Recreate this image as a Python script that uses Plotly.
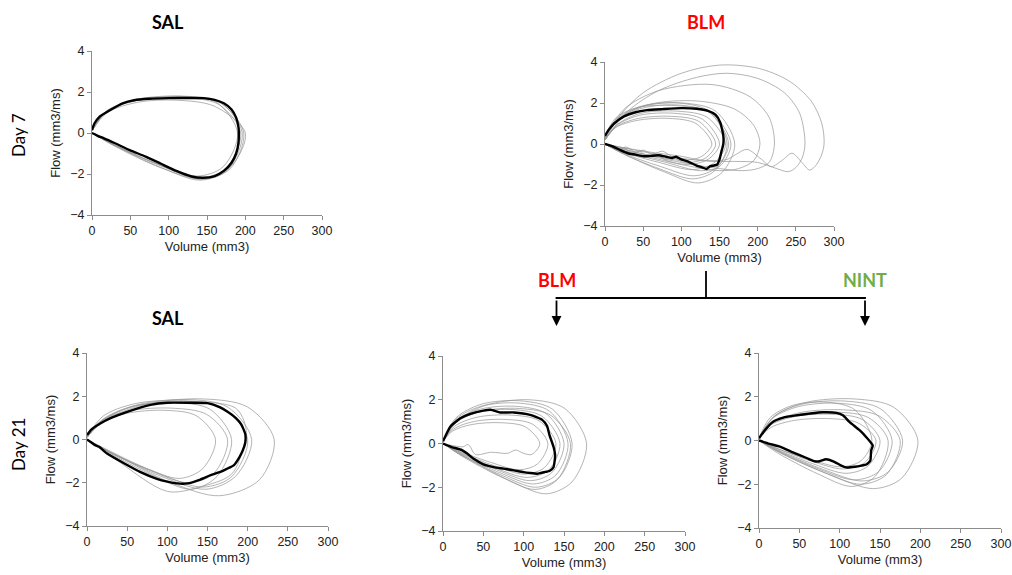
import plotly.graph_objects as go

# ---------------- data (volume mm3, flow mm3/ms) ----------------
x_ticks = [0, 50, 100, 150, 200, 250, 300]
y_ticks = [-4, -2, 0, 2, 4]

# Day 7 SAL
sal7_mean_vol = [0, 3, 10, 25, 40, 55, 75, 100, 125, 145, 160, 172, 182, 188, 191, 191.5,
                 191, 188, 182, 172, 160, 145, 130, 110, 90, 70, 50, 30, 15, 8, 3, 0]
sal7_mean_flow = [0.15, 0.45, 0.8, 1.15, 1.45, 1.6, 1.67, 1.7, 1.71, 1.7, 1.62, 1.45, 1.15, 0.75, 0.3, 0,
                  -0.5, -1.0, -1.45, -1.85, -2.1, -2.18, -2.12, -1.85, -1.5, -1.15, -0.85, -0.5, -0.25, -0.15, -0.05, 0]
sal7_gray_vol = [
    [0, 20, 60, 120, 168, 198, 180, 143, 90, 30, 0],
    [0, 19, 58, 116, 165, 194, 175, 140, 87, 29, 0],
    [0, 20, 60, 110, 160, 200, 182, 145, 90, 30, 0],
    [0, 19, 57, 114, 162, 190, 171, 137, 85, 28, 0],
    [0, 20, 59, 118, 167, 196, 177, 141, 88, 29, 0],
]
sal7_gray_flow = [
    [0.15, 1.1, 1.62, 1.78, 1.45, 0, -1.75, -2.25, -1.6, -0.6, 0],
    [0.1, 1.05, 1.58, 1.72, 1.4, 0, -1.7, -2.2, -1.55, -0.6, 0],
    [0.1, 1.0, 1.5, 1.6, 1.3, 0, -1.6, -2.25, -1.7, -0.65, 0],
    [0.1, 1.05, 1.6, 1.75, 1.5, 0, -1.65, -2.1, -1.5, -0.55, 0],
    [0.15, 1.1, 1.65, 1.8, 1.5, 0, -1.8, -2.3, -1.65, -0.6, 0],
]

# Day 7 BLM
blm7_mean_vol = [0, 5, 12, 25, 40, 55, 75, 100, 120, 135, 145, 151, 155, 155, 153, 150, 147, 143, 138,
                 133, 128, 120, 110, 100, 93, 88, 80, 70, 60, 50, 40, 30, 20, 10, 3, 0]
blm7_mean_flow = [0.4, 0.7, 1.0, 1.35, 1.55, 1.65, 1.7, 1.75, 1.72, 1.62, 1.42, 1.05, 0.4, 0.0, -0.3, -0.75,
                  -1.0, -1.05, -1.08, -1.22, -1.15, -1.05, -0.88, -0.75, -0.62, -0.68, -0.62, -0.55, -0.58,
                  -0.6, -0.52, -0.45, -0.3, -0.12, -0.03, 0.0]
blm7_gray_vol = [
    [0, 20, 50, 100, 150, 200, 240, 270, 284, 287, 283, 275, 268, 258, 245, 232, 218, 205, 186, 172, 160, 130, 100, 60, 20, 0],
    [0, 30, 70, 120, 160, 200, 235, 255, 262, 258, 250, 240, 225, 200, 170, 140, 100, 60, 20, 0],
    [0, 25, 70, 140, 190, 215, 222, 215, 200, 180, 150, 100, 50, 15, 0],
    [0, 20, 60, 120, 170, 195, 203, 195, 175, 150, 100, 50, 15, 0],
    [0, 17, 51, 102, 145, 170, 153, 122, 77, 25, 0],
    [0, 16, 49, 97, 138, 162, 146, 117, 73, 24, 0],
    [0, 16, 47, 95, 134, 158, 142, 114, 71, 24, 0],
    [0, 15, 45, 90, 128, 150, 135, 108, 80, 65, 55, 45, 35, 25, 15, 5, 0],
    [0, 15, 44, 87, 123, 145, 131, 104, 85, 75, 62, 50, 40, 28, 18, 8, 0],
    [0, 15, 45, 100, 140, 165, 150, 125, 80, 25, 0],
    [0, 14, 42, 84, 119, 140, 126, 101, 63, 21, 0],
    [0, 16, 48, 96, 136, 160, 144, 115, 72, 24, 0],
]
blm7_gray_flow = [
    [0.2, 1.4, 2.5, 3.45, 3.85, 3.7, 3.1, 2.1, 1.0, 0, -0.6, -1.1, -1.27, -0.9, -0.45, -0.8, -1.1, -0.75, -0.26, -0.5, -0.75, -0.8, -0.6, -0.4, -0.15, 0],
    [0.2, 1.6, 2.6, 3.25, 3.45, 3.2, 2.5, 1.5, 0, -0.7, -1.15, -1.35, -1.2, -0.9, -0.85, -0.85, -0.7, -0.45, -0.15, 0],
    [0.3, 1.7, 2.6, 2.9, 2.3, 1.3, 0, -0.9, -1.2, -1.3, -1.2, -0.9, -0.5, -0.15, 0],
    [0.3, 1.3, 1.95, 2.1, 1.7, 0.9, 0, -0.8, -1.2, -1.3, -1.0, -0.55, -0.2, 0],
    [0.3, 1.2, 1.85, 2.0, 1.6, 0, -1.4, -1.9, -1.35, -0.5, 0],
    [0.3, 1.15, 1.75, 1.9, 1.5, 0, -1.15, -1.55, -1.1, -0.45, 0],
    [0.2, 0.95, 1.5, 1.6, 1.3, 0, -0.95, -1.25, -0.9, -0.4, 0],
    [0.2, 0.9, 1.4, 1.5, 1.2, 0, -0.75, -1.0, -0.8, -0.5, -0.6, -0.35, -0.45, -0.2, -0.3, -0.05, 0],
    [0.2, 0.85, 1.25, 1.35, 1.1, 0, -0.7, -0.9, -0.55, -0.35, -0.5, -0.3, -0.4, -0.15, -0.25, -0.05, 0],
    [0.4, 1.3, 1.8, 1.85, 1.5, 0, -1.1, -1.3, -0.9, -0.35, 0],
    [0.2, 0.8, 1.15, 1.25, 1.0, 0, -0.62, -0.8, -0.58, -0.22, 0],
    [0.3, 1.25, 1.85, 2.0, 1.6, 0, -1.3, -1.7, -1.22, -0.48, 0],
]

# Day 21 SAL
sal21_mean_vol = [0, 5, 17, 30, 50, 79, 100, 125, 150, 165, 175, 185, 192, 197, 197, 194, 190, 183, 174,
                  166, 154, 141, 125, 112, 100, 87, 66, 46, 25, 15, 10, 4, 0]
sal21_mean_flow = [0.2, 0.45, 0.75, 1.0, 1.28, 1.6, 1.7, 1.7, 1.68, 1.5, 1.28, 1.0, 0.7, 0.25, -0.15, -0.5,
                   -0.8, -1.18, -1.36, -1.5, -1.65, -1.85, -2.03, -2.03, -1.95, -1.82, -1.5, -1.1, -0.65,
                   -0.34, -0.26, -0.1, 0.0]
sal21_gray_vol = [
    [0, 23, 70, 140, 200, 233, 215, 165, 105, 35, 0],
    [0, 20, 62, 123, 175, 205, 185, 148, 92, 30, 0],
    [0, 20, 60, 120, 185, 198, 195, 180, 140, 100, 35, 0],
    [0, 18, 54, 108, 153, 180, 162, 130, 81, 27, 0],
    [0, 18, 53, 105, 149, 175, 158, 126, 79, 26, 0],
    [0, 16, 48, 96, 136, 160, 144, 115, 72, 24, 0],
    [0, 20, 60, 120, 170, 200, 180, 144, 90, 30, 0],
]
sal21_gray_flow = [
    [0.1, 0.9, 1.6, 1.88, 1.5, 0, -1.85, -2.6, -2.0, -0.7, 0],
    [0.1, 0.95, 1.6, 1.85, 1.5, 0, -1.7, -2.3, -1.7, -0.6, 0],
    [0.1, 0.9, 1.55, 1.75, 1.45, 0.5, -0.3, -1.6, -2.2, -2.4, -0.9, 0],
    [0.1, 0.85, 1.5, 1.7, 1.4, 0, -1.7, -2.3, -1.65, -0.6, 0],
    [0.1, 0.87, 1.33, 1.45, 1.16, 0, -1.56, -2.0, -1.44, -0.56, 0],
    [0.1, 0.75, 1.2, 1.35, 1.1, 0, -1.35, -1.8, -1.3, -0.45, 0],
    [0.1, 1.08, 1.66, 1.8, 1.44, 0, -1.72, -2.2, -1.58, -0.62, 0],
]

# Day 21 BLM
blm21_mean_vol = [0, 9, 21.5, 34, 50, 59, 71, 88, 108, 123, 129, 132, 137, 139, 137, 132, 127, 121,
                  116.5, 108, 100, 88, 75, 63, 50, 38, 30, 23.5, 10, 0]
blm21_mean_flow = [0.1, 0.77, 1.15, 1.35, 1.5, 1.54, 1.42, 1.42, 1.31, 1.08, 0.8, 0.38, -0.15, -0.54,
                   -1.08, -1.26, -1.3, -1.35, -1.38, -1.35, -1.31, -1.23, -1.15, -1.08, -0.95, -0.7,
                   -0.46, -0.3, -0.15, 0]
blm21_gray_vol = [
    [0, 18, 53, 107, 151, 178, 160, 128, 80, 27, 0],
    [0, 16, 48, 96, 136, 160, 144, 115, 72, 24, 0],
    [0, 16, 47, 93, 132, 155, 140, 112, 70, 23, 0],
    [0, 15, 45, 90, 128, 150, 135, 108, 68, 23, 0],
    [0, 15, 44, 87, 123, 145, 131, 104, 65, 22, 0],
    [0, 14, 42, 84, 119, 140, 126, 101, 63, 21, 0],
    [0, 13, 39, 78, 111, 130, 117, 94, 59, 20, 0],
    [0, 12, 36, 72, 102, 120, 110, 100, 90, 80, 60, 40, 33, 30, 25, 10, 0],
    [0, 16, 47, 95, 134, 158, 142, 114, 71, 24, 0],
]
blm21_gray_flow = [
    [0.1, 1.05, 1.75, 2.0, 1.6, 0, -1.75, -2.3, -1.65, -0.6, 0],
    [0.1, 1.17, 1.8, 1.95, 1.56, 0, -1.56, -2.0, -1.44, -0.56, 0],
    [0.1, 1.11, 1.7, 1.85, 1.48, 0, -1.44, -1.85, -1.33, -0.52, 0],
    [0.1, 1.02, 1.56, 1.7, 1.36, 0, -1.33, -1.7, -1.22, -0.48, 0],
    [0.1, 0.93, 1.43, 1.55, 1.24, 0, -1.21, -1.55, -1.12, -0.43, 0],
    [0.1, 0.78, 1.2, 1.3, 1.04, 0, -1.09, -1.4, -1.01, -0.39, 0],
    [0.1, 0.66, 1.01, 1.1, 0.88, 0, -0.94, -1.2, -0.86, -0.34, 0],
    [0.1, 0.57, 0.87, 0.95, 0.76, 0, -0.5, -0.45, -0.3, -0.45, -0.4, -0.5, -0.1, -0.05, -0.15, -0.08, 0],
    [0.1, 0.96, 1.47, 1.6, 1.28, 0, -1.64, -2.1, -1.51, -0.59, 0],
]

# Day 21 NINT
nint21_mean_vol = [0, 7, 17, 30, 46, 63, 79, 96, 104, 112, 125, 133, 141, 139, 138, 133, 127, 119, 108,
                   102, 92, 83, 75, 69, 59, 42, 26, 13, 0]
nint21_mean_flow = [0.1, 0.46, 0.85, 1.05, 1.15, 1.23, 1.29, 1.26, 1.15, 0.85, 0.46, 0.15, -0.23, -0.46,
                    -0.92, -1.1, -1.15, -1.2, -1.23, -1.15, -0.95, -0.86, -0.95, -0.95, -0.8, -0.54,
                    -0.28, -0.15, 0]
nint21_gray_vol = [
    [0, 20, 59, 118, 167, 197, 177, 142, 89, 30, 0],
    [0, 18, 53, 107, 151, 178, 160, 128, 80, 27, 0],
    [0, 18, 53, 105, 149, 175, 158, 126, 79, 26, 0],
    [0, 17, 50, 99, 140, 165, 149, 119, 74, 25, 0],
    [0, 15, 45, 90, 128, 150, 135, 108, 68, 23, 0],
    [0, 15, 44, 87, 123, 145, 131, 104, 65, 22, 0],
    [0, 14, 42, 84, 119, 140, 126, 101, 63, 21, 0],
    [0, 16, 48, 96, 136, 160, 144, 115, 72, 24, 0],
]
nint21_gray_flow = [
    [0.1, 1.14, 1.75, 1.9, 1.52, 0, -1.72, -2.2, -1.58, -0.62, 0],
    [0.1, 1.08, 1.66, 1.8, 1.44, 0, -1.44, -1.85, -1.33, -0.52, 0],
    [0.1, 0.84, 1.29, 1.4, 1.12, 0, -1.56, -2.0, -1.44, -0.56, 0],
    [0.1, 1.02, 1.56, 1.7, 1.36, 0, -1.4, -1.8, -1.3, -0.5, 0],
    [0.1, 0.72, 1.1, 1.2, 0.96, 0, -1.17, -1.5, -1.08, -0.42, 0],
    [0.1, 0.6, 0.92, 1.0, 0.8, 0, -1.01, -1.3, -0.94, -0.36, 0],
    [0.1, 1.05, 1.61, 1.75, 1.4, 0, -0.94, -1.2, -0.86, -0.34, 0],
    [0.1, 0.78, 1.2, 1.3, 1.04, 0, -1.64, -2.1, -1.51, -0.59, 0],
]

# ---------------- layout geometry (pixels) ----------------
W, H = 1012, 575


def px(x):
    return x / W


def py(y):
    return 1 - y / H


panels = [
    # (axis suffix, x px range, y px range (top, bottom), mean vol, mean flow, gray vols, gray flows)
    ("", (92, 322), (51, 215), sal7_mean_vol, sal7_mean_flow, sal7_gray_vol, sal7_gray_flow),
    ("2", (605, 834), (62, 226), blm7_mean_vol, blm7_mean_flow, blm7_gray_vol, blm7_gray_flow),
    ("3", (87, 328), (353, 526), sal21_mean_vol, sal21_mean_flow, sal21_gray_vol, sal21_gray_flow),
    ("4", (443, 685), (356, 531), blm21_mean_vol, blm21_mean_flow, blm21_gray_vol, blm21_gray_flow),
    ("5", (759, 1001), (353, 528), nint21_mean_vol, nint21_mean_flow, nint21_gray_vol, nint21_gray_flow),
]

FONT = "Liberation Sans, Arial, sans-serif"
TITLE_FONT = "Lato, Carlito, Calibri, sans-serif"
AXC = "#8c8c8c"

fig = go.Figure()
layout = dict(
    width=W, height=H, autosize=False, margin=dict(l=0, r=0, t=0, b=0, pad=0),
    paper_bgcolor="white", plot_bgcolor="white", showlegend=False,
    font=dict(family=FONT, color="#222"),
)

for suf, (x0, x1), (y0, y1), mv, mf, gv, gf in panels:
    xa = "x" + suf
    ya = "y" + suf
    for vv, ff in zip(gv, gf):
        fig.add_trace(go.Scatter(x=vv, y=ff, mode="lines", xaxis=xa, yaxis=ya,
                                 line=dict(color="rgba(150,150,150,0.8)", width=0.9,
                                           shape="spline", smoothing=0.9),
                                 hoverinfo="skip"))
    fig.add_trace(go.Scatter(x=mv, y=mf, mode="lines", xaxis=xa, yaxis=ya,
                             line=dict(color="black", width=2.4, shape="spline", smoothing=0.5),
                             hoverinfo="skip"))
    layout["xaxis" + suf] = dict(
        domain=[px(x0), px(x1)], anchor=ya, range=[0, 300], tickvals=x_ticks, automargin=False,
        showgrid=False, zeroline=False, showline=True, linecolor=AXC, linewidth=1,
        ticks="outside", ticklen=4, tickcolor=AXC, tickfont=dict(size=12.5, family=FONT, color="#222"),
        title=dict(text="Volume (mm3)", font=dict(size=13, family=FONT, color="#222"), standoff=4),
        fixedrange=True,
    )
    layout["yaxis" + suf] = dict(
        domain=[py(y1), py(y0)], anchor=xa, range=[-4, 4], tickvals=y_ticks, automargin=False,
        showgrid=False, zeroline=False, showline=True, linecolor=AXC, linewidth=1,
        ticks="outside", ticklen=4, tickcolor=AXC, tickfont=dict(size=12.5, family=FONT, color="#222"),
        title=dict(text="Flow (mm3/ms)", font=dict(size=13, family=FONT, color="#222"), standoff=6),
        fixedrange=True,
    )

annotations = [
    dict(text="<b>SAL</b>", x=px(168), y=py(22), font=dict(size=18, color="black", family=TITLE_FONT)),
    dict(text="<b>BLM</b>", x=px(706), y=py(22), font=dict(size=18, color="#ff0000", family=TITLE_FONT)),
    dict(text="<b>SAL</b>", x=px(168), y=py(318), font=dict(size=18, color="black", family=TITLE_FONT)),
    dict(text="<b>BLM</b>", x=px(556.5), y=py(280), font=dict(size=18, color="#ff0000", family=TITLE_FONT)),
    dict(text="<b>NINT</b>", x=px(865), y=py(280), font=dict(size=18, color="#70ad47", family=TITLE_FONT)),
    dict(text="Day 7", x=px(18), y=py(135), textangle=-90, font=dict(size=17, color="black", family=TITLE_FONT)),
    dict(text="Day 21", x=px(18), y=py(445), textangle=-90, font=dict(size=17, color="black", family=TITLE_FONT)),
]
for a in annotations:
    a.update(xref="paper", yref="paper", showarrow=False, xanchor="center", yanchor="middle")

# arrow heads
for ax_x in (556.5, 865):
    annotations.append(dict(xref="paper", yref="paper", x=px(ax_x), y=py(326), ax=0, ay=-27,
                            text="", showarrow=True, arrowhead=2, arrowsize=1.1, arrowwidth=1.8,
                            arrowcolor="black"))

shapes = [
    dict(type="line", xref="paper", yref="paper", x0=px(706), x1=px(706), y0=py(271), y1=py(298),
         line=dict(color="black", width=1.8)),
    dict(type="line", xref="paper", yref="paper", x0=px(555.6), x1=px(865.9), y0=py(298), y1=py(298),
         line=dict(color="black", width=1.8)),
]

layout["annotations"] = annotations
layout["shapes"] = shapes
fig.update_layout(**layout)

fig.write_html("out.html", include_plotlyjs=True, config={"displayModeBar": False},
               post_script="document.body.style.margin='0px';document.body.style.overflow='hidden';")
